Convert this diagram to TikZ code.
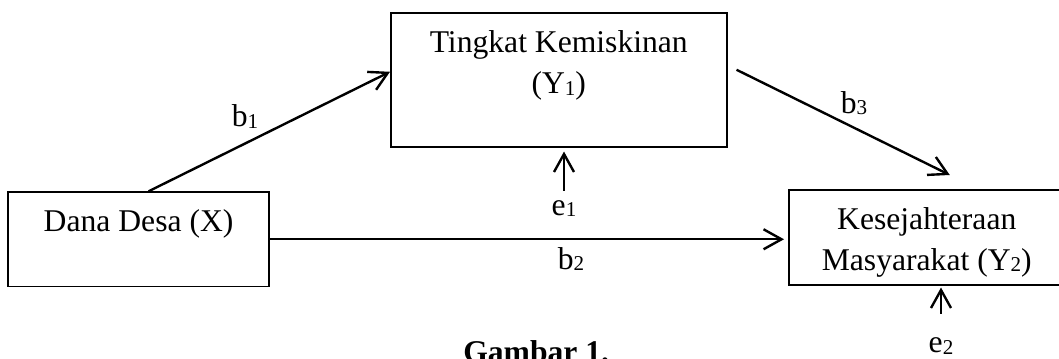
\documentclass[tikz,border=0pt]{standalone}
\usepackage{fontspec}
\setmainfont{Liberation Serif}
\usetikzlibrary{arrows.meta}
\newcommand{\idx}[1]{\raisebox{-0.05em}{\fontsize{15}{15}\selectfont #1}}
\tikzset{
	box/.style={draw, line width=1.1pt, inner sep=0pt, align=center, anchor=north west, font=\fontsize{22.5}{29.2}\selectfont},
	link/.style={line width=1.7pt, -{Straight Barb[length=0.45cm, width=0.5cm]}},
	lbl/.style={inner sep=0pt, anchor=base, font=\fontsize{22.5}{27}\selectfont},
}
\begin{document}
\begin{tikzpicture}
				\useasboundingbox (0, 0) rectangle (26.475, -8.95);
				\node[box, minimum width=6.525cm, text height=0.9925cm, text depth=1.3675cm] (X)at(0.1825, -4.7825) {Dana Desa (X)};
				\node[box, minimum width=8.4cm, text height=2.025cm, text depth=1.325cm] (Y1)at(9.75, -0.3) {Tingkat Kemiskinan\\(Y\idx{1})};
				\node[box, minimum width=6.9cm, text height=2.0075cm, text depth=0.3675cm] (Y2)at(19.7, -4.725) {Kesejahteraan\\Masyarakat (Y\idx{2})};
				\node[lbl] (b1)at(6.125, -3.1675) {b\idx{1}};
				\node[lbl] (b2)at(14.275, -6.725) {b\idx{2}};
				\node[lbl] (b3)at(21.35, -2.825) {b\idx{3}};
				\node[lbl, text height=0.6cm] (e1)at(14.1, -5.375) {e\idx{1}};
				\node[lbl, text height=0.6cm] (e2)at(23.525, -8.8175) {e\idx{2}};
				\node[lbl, anchor=base west, font=\fontsize{22.5}{27}\selectfont\bfseries] (G)at(11.575, -9.05) {Gambar 1.};
				\draw[link] ([xshift=0.25cm]X.north) -- ([yshift=0.2cm]Y1.west);
				\draw[link] ([xshift=0.225cm, yshift=0.25cm]Y1.east) -- ([xshift=0.575cm, yshift=0.35cm]Y2.north);
				\draw[link, shorten >=0.1cm] (X.east) -- (X.east -| Y2.west);
				\draw[link, shorten >=0.1cm] (e1.north) -- (e1.north |- Y1.south);
				\draw[link, shorten <=0.37cm, shorten >=0.05cm] (e2.north) -- (e2.north |- Y2.south);
			\end{tikzpicture}
\end{document}
